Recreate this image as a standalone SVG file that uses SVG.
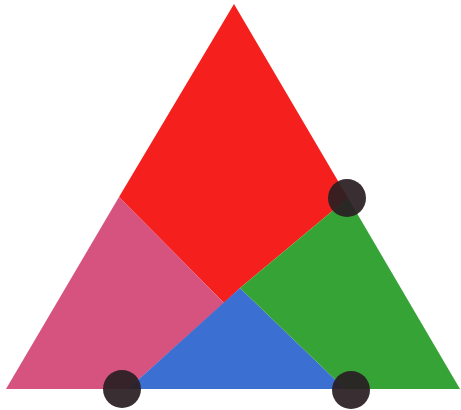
<svg xmlns="http://www.w3.org/2000/svg" width="461" height="410" viewBox="0 0 461 410">
<style>
.dot{fill:#2a1e22;fill-opacity:0.93}
.reg{stroke:none}
</style>
<rect width="461" height="410" fill="#ffffff"/>
<g id="red"><polygon class="reg" fill="#f5201e" points="234,4 348,198 240,288 224,303 119,197"/></g>
<g id="pink"><polygon class="reg" fill="#d6527f" points="119,197 224,303 128,389 6,389"/></g>
<g id="blue"><polygon class="reg" fill="#3c6fd2" points="240,288 345,389 128,389"/></g>
<g id="green"><polygon class="reg" fill="#35a336" points="348,198 460,389 345,389 240,288"/></g>
<g id="connectors"></g>
<g id="dot-right"><circle class="dot" cx="347" cy="198" r="19"/></g>
<g id="dot-bl"><circle class="dot" cx="122" cy="389" r="19"/></g>
<g id="dot-br"><circle class="dot" cx="351" cy="390" r="19"/></g>
</svg>
